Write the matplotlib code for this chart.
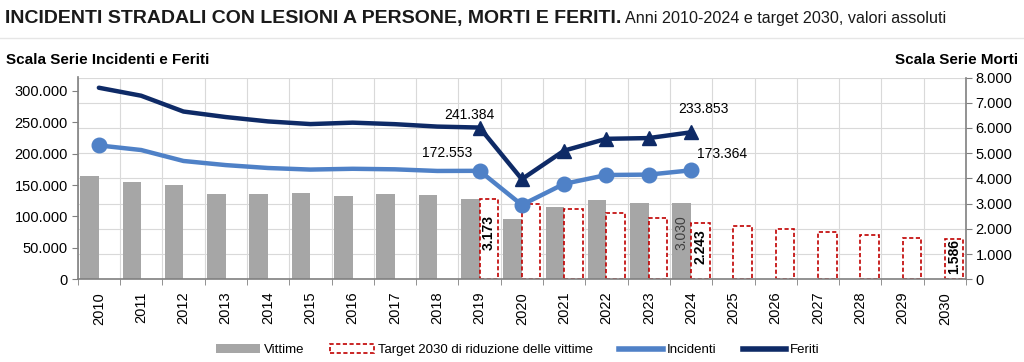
import numpy as np
import matplotlib
matplotlib.use("Agg")
import matplotlib.pyplot as plt
from matplotlib.patches import Patch
from matplotlib.lines import Line2D

# Dati
anni = [str(a) for a in range(2010, 2031)]

incidenti = [212997, 205638, 188228, 181660, 177031, 174539, 175791, 174933,
             172344, 172553, 118298, 151875, 165889, 166525, 173364]
feriti = [304720, 292019, 266864, 258093, 251147, 246920, 249175, 246750,
          242919, 241384, 159248, 204728, 223475, 224634, 233853]
vittime = [4114, 3860, 3753, 3401, 3381, 3428, 3283, 3378, 3334, 3173,
           2395, 2875, 3159, 3039, 3030]
target = [3173, 2990, 2800, 2620, 2430, 2243, 2110, 1980, 1860, 1745, 1620, 1586]

plt.rcParams['font.family'] = ['Liberation Sans', 'DejaVu Sans']

c_grigio = '#a6a6a6'
c_rosso = '#c00000'
c_inc = '#4f81c7'
c_fer = '#0e2a66'
c_asse = '#808080'


def fmt(v):
    return f"{v:,}".replace(",", ".")


fig = plt.figure(figsize=(10.24, 3.62), dpi=100)
ax = fig.add_axes([77.7 / 1024, 1 - 279.3 / 362, 888.3 / 1024, 201.8 / 362])
ax2 = ax.twinx()

x = np.arange(len(anni))
x_st = x[:15]      # 2010-2024
x_tg = x[9:]       # 2019-2030
w = 0.44

# barre sulla scala morti (destra)
ax.bar(x_st - w / 2, vittime, width=w, color=c_grigio, zorder=2)
ax.bar(x_tg + w / 2, target, width=w, facecolor='white', edgecolor=c_rosso,
       linestyle=(0, (2.5, 1.5)), linewidth=1.2, zorder=2)

ax.set_xlim(-0.5, len(anni) - 0.5)
ax.set_ylim(0, 8000)
ax.yaxis.tick_right()
ax.set_yticks(np.arange(0, 8001, 1000))
ax.set_yticklabels([fmt(v) for v in range(0, 8001, 1000)])
ax.set_xticks(x)
ax.set_xticklabels(anni, rotation=90)
ax.set_xticks(np.arange(-0.5, len(anni), 1), minor=True)
ax.tick_params(axis='x', which='major', length=0, pad=9, labelsize=10.5)
ax.tick_params(axis='x', which='minor', length=4, color=c_asse, direction='out')
ax.tick_params(axis='y', length=4, color=c_asse, labelsize=10.5, pad=3)
ax.grid(True, axis='y', color='#d9d9d9', linewidth=0.8, zorder=0)
ax.grid(True, axis='x', which='minor', color='#d9d9d9', linewidth=0.8, zorder=0)
ax.set_axisbelow(True)
ax.spines['top'].set_visible(False)
ax.spines['left'].set_visible(False)
for s in ['right', 'bottom']:
    ax.spines[s].set_color(c_asse)
    ax.spines[s].set_linewidth(1.2)

# etichette barre
for xi, v in [(x_tg[0], target[0]), (x_tg[5], target[5]), (x_tg[-1], target[-1])]:
    ax.text(xi + w / 2, v * 0.58, fmt(v), rotation=90, ha='center', va='center',
            fontsize=10, fontweight='bold', color='black', zorder=5)
ax.text(x_st[-1] - w / 2, vittime[-1] * 0.61, fmt(vittime[-1]), rotation=90,
        ha='center', va='center', fontsize=10, color='#404040', zorder=5)

# linee sulla scala incidenti/feriti (sinistra)
ax2.yaxis.tick_left()
ax2.set_ylim(0, 321000)
ax2.set_yticks(np.arange(0, 300001, 50000))
ax2.set_yticklabels([fmt(v) for v in range(0, 300001, 50000)])
ax2.tick_params(axis='y', length=4, color=c_asse, labelsize=10.5, pad=3)
for s in ['top', 'right', 'bottom']:
    ax2.spines[s].set_visible(False)
ax2.spines['left'].set_color(c_asse)
ax2.spines['left'].set_linewidth(1.2)

ax2.plot(x_st, incidenti, color=c_inc, linewidth=3.2, zorder=4, solid_capstyle='round')
ax2.plot(x_st, feriti, color=c_fer, linewidth=3.2, zorder=4, solid_capstyle='round')
idx_m = [0] + list(range(9, 15))
ax2.plot(x_st[idx_m], np.array(incidenti)[idx_m], 'o', color=c_inc, markersize=10.5, zorder=5)
ax2.plot(x_st[9:], feriti[9:], '^', color=c_fer, markersize=10.5, zorder=5)

ax2.annotate(fmt(feriti[9]), (x_st[9], feriti[9]), xytext=(-7, 9), textcoords='offset points',
             ha='center', va='center', fontsize=10)
ax2.annotate(fmt(incidenti[9]), (x_st[9], incidenti[9]), xytext=(-23, 13), textcoords='offset points',
             ha='center', va='center', fontsize=10)
ax2.annotate(fmt(feriti[14]), (x_st[14], feriti[14]), xytext=(9, 17), textcoords='offset points',
             ha='center', va='center', fontsize=10)
ax2.annotate(fmt(incidenti[14]), (x_st[14], incidenti[14]), xytext=(22, 12), textcoords='offset points',
             ha='center', va='center', fontsize=10)

# titoli
t1 = fig.text(5 / 1024, 1 - 18 / 362, "INCIDENTI STRADALI CON LESIONI A PERSONE, MORTI E FERITI.",
              fontsize=14, fontweight='bold', va='center', color='#1a1a1a')
fig.canvas.draw()
bb = t1.get_window_extent()
fig.text((bb.x1 + 4) / 1024, 1 - 18 / 362, "Anni 2010-2024 e target 2030, valori assoluti",
         fontsize=11.6, va='center', color='#1a1a1a')
fig.add_artist(Line2D([0, 1], [1 - 38 / 362, 1 - 38 / 362], color='#e6e6e6', linewidth=1))
fig.text(6 / 1024, 1 - 60 / 362, "Scala Serie Incidenti e Feriti", fontsize=11,
         fontweight='bold', va='center')
fig.text(1018 / 1024, 1 - 60 / 362, "Scala Serie Morti", fontsize=11,
         fontweight='bold', va='center', ha='right')

# legenda
handles = [Patch(facecolor=c_grigio, edgecolor='none'),
           Patch(facecolor='white', edgecolor=c_rosso, linestyle=(0, (2.5, 1.5)), linewidth=1.2),
           Line2D([], [], color=c_inc, linewidth=4),
           Line2D([], [], color=c_fer, linewidth=4)]
labels = ["Vittime", "Target 2030 di riduzione delle vittime", "Incidenti", "Feriti"]
fig.legend(handles, labels, loc='center', bbox_to_anchor=(518 / 1024, 1 - 350 / 362), ncol=4,
           frameon=False, prop={'size': 9.5}, handlelength=3.3,
           handleheight=0.6, handletextpad=0.3, columnspacing=2.0)

fig.savefig("out.png", dpi=100)
